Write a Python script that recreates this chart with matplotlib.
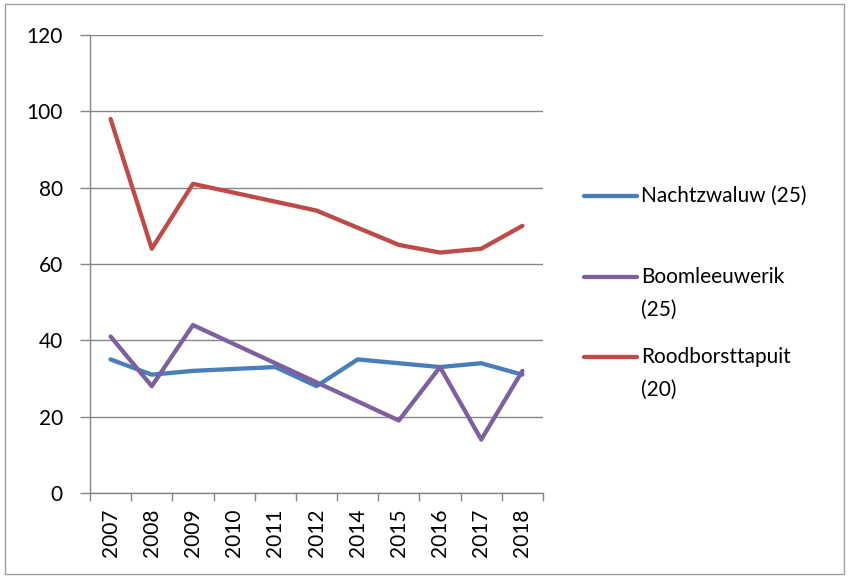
import numpy as np
import matplotlib.pyplot as plt
from matplotlib.lines import Line2D
from matplotlib.patches import Rectangle

plt.rcParams['font.family'] = ['Lato', 'DejaVu Sans']

# jaren (2013 ontbreekt), lege waarden = niet geteld
jaren = ['2007', '2008', '2009', '2010', '2011', '2012', '2014', '2015', '2016', '2017', '2018']
nachtzwaluw = [35, 31, 32, np.nan, 33, 28, 35, 34, 33, 34, 31]
boomleeuwerik = [41, 28, 44, np.nan, np.nan, np.nan, np.nan, 19, 33, 14, 32]
roodborsttapuit = [98, 64, 81, np.nan, np.nan, 74, np.nan, 65, 63, 64, 70]

namen = ['Nachtzwaluw (25)', 'Boomleeuwerik\n(25)', 'Roodborsttapuit\n(20)']
kleuren = ['#4A7EBB', '#7D60A0', '#BE4B48']
reeksen = [nachtzwaluw, boomleeuwerik, roodborsttapuit]

fig = plt.figure(figsize=(8.49, 5.77), dpi=100)
ax = fig.add_axes([90 / 849, 1 - 493 / 577, 453 / 849, 458 / 577])

x = np.arange(len(jaren))
for vals, kl in zip(reeksen, kleuren):
    v = np.array(vals, dtype=float)
    m = ~np.isnan(v)
    ax.plot(x[m], v[m], color=kl, lw=3.1, solid_joinstyle='round',
            solid_capstyle='round', zorder=3)

grijs = '#868686'
ax.set_ylim(0, 120)
ax.set_yticks(range(0, 121, 20))
ax.set_xlim(-0.5, len(jaren) - 0.5)
ax.set_xticks(x)
ax.set_xticklabels(jaren, rotation=90, fontsize=15)
ax.set_xticks(np.arange(-0.5, len(jaren)), minor=True)
ax.tick_params(axis='x', which='major', length=0, pad=11)
ax.tick_params(axis='x', which='minor', length=6, color=grijs, width=1)
ax.tick_params(axis='y', length=7, color=grijs, width=1, labelsize=15, pad=12.5)
ax.grid(axis='y', color=grijs, lw=1, zorder=0)
for s in ['top', 'right']:
    ax.spines[s].set_visible(False)
for s in ['left', 'bottom']:
    ax.spines[s].set_color(grijs)
    ax.spines[s].set_linewidth(1)

# legenda rechts, zoals in Excel
posities = [196, 277, 357]
for naam, kl, py in zip(namen, kleuren, posities):
    yf = 1 - py / 577
    fig.add_artist(Line2D([584 / 849, 637 / 849], [yf, yf], color=kl, lw=3.1,
                          solid_capstyle='round'))
    for i, regel in enumerate(naam.split('\n')):
        fig.text(641 / 849, 1 - (py + i * 33) / 577, regel, fontsize=15,
                 va='center', ha='left')

# rand om de figuur
fig.add_artist(Rectangle((5 / 849, 3 / 577), 839 / 849, 570 / 577, fill=False,
                         edgecolor='#A0A0A0', lw=1, transform=fig.transFigure))

fig.savefig('out.png', dpi=100)
